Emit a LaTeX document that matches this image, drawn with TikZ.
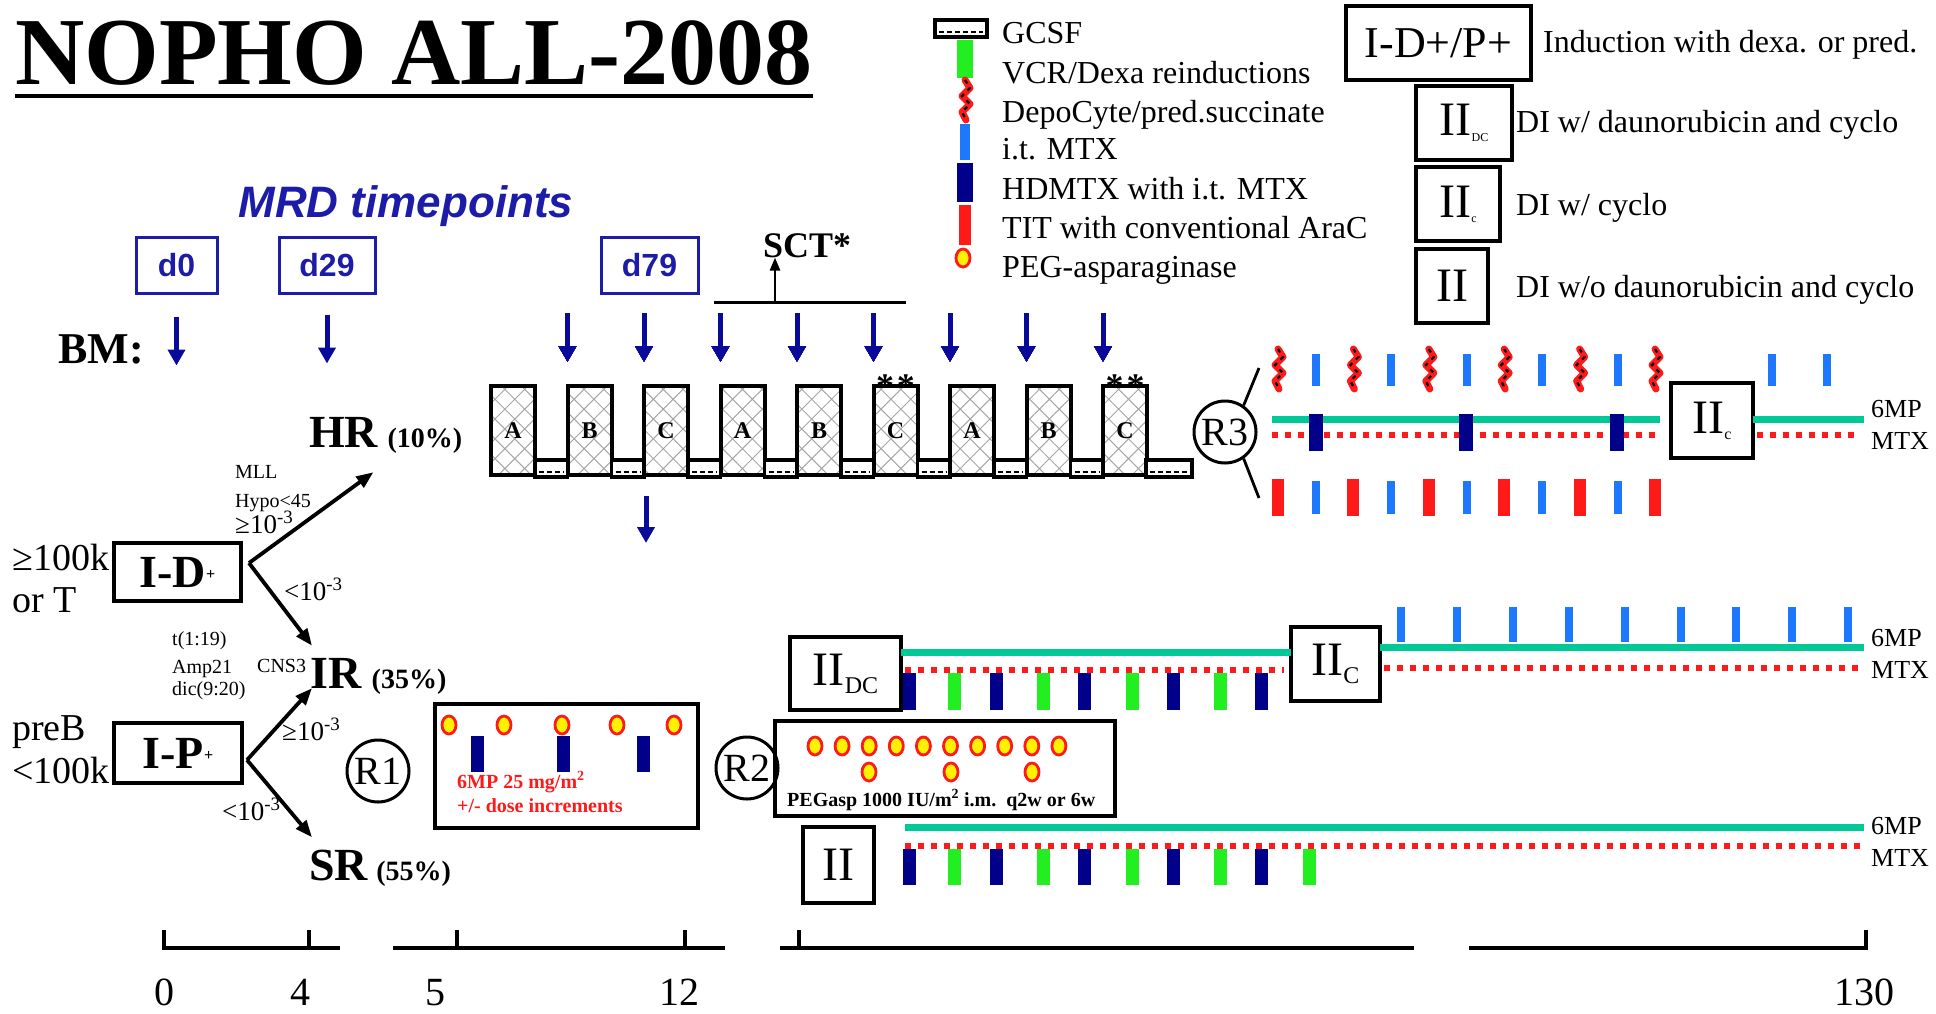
\documentclass[tikz,border=0pt]{standalone}
\usepackage{fontspec}
\setmainfont{Liberation Serif}
\setsansfont{Liberation Sans}
\usetikzlibrary{positioning, arrows.meta, patterns.meta}
\definecolor{navyBar}{HTML}{00008B}
\definecolor{arrowBlue}{HTML}{0A0A9A}
\definecolor{mrdBlue}{HTML}{1C1CA8}
\definecolor{itBlue}{HTML}{1E78FF}
\definecolor{vcrGreen}{HTML}{22EE22}
\definecolor{titRed}{HTML}{FF1A1A}
\definecolor{mpTeal}{HTML}{00C896}
\newcommand{\setfs}[1]{\fontsize{#1}{#1}\selectfont}
% GCSF box: left, bottom, width
\newcommand{\gcsf}[3]{%
  \begin{scope}[shift={(#1,#2)}]
    \draw[line width=3.5pt, fill=white] (0,0) rectangle ({#3},-17);
    \draw[line width=2.2pt, dash pattern=on 5pt off 3pt] (4,-5) -- ({#3-4},-5);
  \end{scope}}
\tikzset{
  depo/.pic={
    \draw[titRed, line width=7pt, line cap=round, line join=round] (0,0) -- (5,8) -- (-3,16) -- (5,24) -- (-3,32) -- (1,40);
    \draw[line width=2.2pt, dash pattern=on 4pt off 5pt] (0,0) -- (5,8) -- (-3,16) -- (5,24) -- (-3,32) -- (1,40);
  },
  peg/.pic={
    \draw[titRed, line width=2.8pt, fill=yellow] (0,0) ellipse [x radius=7pt, y radius=9pt];
  }
}

\begin{document}
\begin{tikzpicture}[x=1pt, y=-1pt,
  every node/.style={inner sep=0pt},
  txt/.style={anchor=base west},
  phase/.style={draw, line width=4pt, font=\setfs{48}},
  mrdbox/.style={draw=mrdBlue, line width=3pt, text=mrdBlue, font=\sffamily\bfseries\setfs{32}, minimum height=56pt},
  bm/.style={arrowBlue, line width=5pt, -{Triangle[length=16pt,width=17pt]}},
  fork/.style={line width=3.8pt, -{Triangle[length=17pt,width=13pt]}},
  block/.style={draw, line width=4pt, pattern={Hatch[angle=45,distance=14pt,line width=1pt]}, pattern color=gray!70, minimum width=44pt, minimum height=89pt, font=\bfseries\setfs{24}},
  rcirc/.style={draw, circle, line width=3pt, minimum size=62pt, font=\setfs{40}},
  sixmp/.style={mpTeal, line width=7pt},
  mtx/.style={titRed, line width=6pt, dash pattern=on 6pt off 7pt},
  axis/.style={line width=4pt},
  risk/.style={anchor=base west, font=\bfseries\setfs{46}},
  pct/.style={anchor=base west, font=\bfseries\setfs{28}},
  cond/.style={anchor=base west, font=\setfs{20}},
  cut/.style={anchor=base west, font=\setfs{27}},
  lg/.style={anchor=base west, font=\setfs{32}},
  side/.style={anchor=base west, font=\setfs{38}},
  rlab/.style={anchor=base west, font=\setfs{26}}
]
\useasboundingbox (0,0) rectangle (1936,1013);

% title
\node[txt, font=\bfseries\setfs{96}] (title) at (15,84) {NOPHO ALL-2008};
\draw[line width=4.5pt] ([yshift=-12pt]title.base west) -- ([yshift=-12pt]title.base east);

% drug legend
\gcsf{935}{37}{52}
\fill[vcrGreen] (957,40) rectangle (973,78);
\pic at (965,80) {depo};
\fill[itBlue] (960,124) rectangle (970,160);
\fill[navyBar] (957,163) rectangle (973,202);
\fill[titRed] (959,205) rectangle (971,245);
\pic at (963,258) {peg};
\node[lg] (lgcsf) at (1002,43) {GCSF};
\node[lg] (lvcr) at (1002,83) {VCR/Dexa reinductions};
\node[lg] (ldepo) at (1002,122) {DepoCyte/pred.succinate};
\node[lg] (litmtx) at (1002,159) {i.t. MTX};
\node[lg] (lhdmtx) at (1002,199) {HDMTX with i.t. MTX};
\node[lg] (ltit) at (1002,238) {TIT with conventional AraC};
\node[lg] (lpeg) at (1002,277) {PEG-asparaginase};

% phase legend
\node[phase, minimum width=185pt, minimum height=74pt, font=\setfs{44}] (legid) at (1438.5,43) {I-D+/P+};
\node[lg] (legidtxt) at (1543,52) {Induction with dexa. or pred.};
\node[phase, minimum width=96pt, minimum height=74pt] (legiidc) at (1464,123) {II\raisebox{-6pt}{\setfs{12}DC}};
\node[lg] (legiidctxt) at (1516,132) {DI w/ daunorubicin and cyclo};
\node[phase, minimum width=84pt, minimum height=74pt] (legiic) at (1458,204) {II\raisebox{-5pt}{\setfs{12}c}};
\node[lg] (legiictxt) at (1516,215) {DI w/ cyclo};
\node[phase, minimum width=72pt, minimum height=74pt] (legii) at (1452,286) {II};
\node[lg] (legiitxt) at (1516,297) {DI w/o daunorubicin and cyclo};

% MRD timepoints
\node[font=\sffamily\bfseries\itshape\setfs{44}, text=mrdBlue] (mrd) at (406,206) {MRD timepoints};
\node[mrdbox, minimum width=81pt] (d0) at (176.5,265) {d0};
\node[mrdbox, minimum width=96pt] (d29) at (327,265) {d29};
\node[mrdbox, minimum width=97pt] (d79) at (649.5,265) {d79};
\node[txt, font=\bfseries\setfs{44}] (bm) at (58,363) {BM:};
\draw[bm] ([yshift=-22pt]d0.south) -- ++(0,49);
\draw[bm] ([yshift=-20pt]d29.south) -- ++(0,49);

% HR blocks
\foreach \k/\l in {0/A,1/B,2/C,3/A,4/B,5/C,6/A,7/B,8/C}
  \node[block] (blk\k) at ({513+76.5*\k},430.5) {\l};
\foreach \k in {0,...,7}
  \gcsf{535+76.5*\k}{477}{32.5}
\gcsf{1146}{477}{46}
\foreach \k in {1,...,8}
  \draw[bm] ([xshift=2pt,yshift=71pt]blk\k.north west) -- ([xshift=2pt,yshift=22pt]blk\k.north west);
\draw[bm] ([xshift=4pt,yshift=-19pt]blk2.south west) -- ++(0,47);
\node[anchor=base, font=\bfseries\setfs{36}] (ast5) at ([yshift=-14pt]blk5.north) {*\hspace{3pt}*};
\node[anchor=base, font=\bfseries\setfs{36}] (ast8) at ([yshift=-14pt]blk8.north) {*\hspace{3pt}*};

% SCT
\node[txt, font=\bfseries\setfs{36}] (sct) at (763,257) {SCT*};
\coordinate (sctbar) at (775,302);
\draw[line width=3pt] (714,302) -- (906,302);
\draw[line width=2.5pt, -{Triangle[length=13pt,width=10pt]}] (sctbar) -- (sctbar |- sct.south);

% induction and stratification
\node[phase, minimum width=127pt, minimum height=58pt, font=\bfseries\setfs{46}] (idbox) at (177.5,572) {I-D\raisebox{8pt}{\setfs{16}+}};
\node[phase, minimum width=128pt, minimum height=60pt, font=\bfseries\setfs{46}] (ipbox) at (178,753) {I-P\raisebox{8pt}{\setfs{16}+}};
\node[side] (wbchi) at (12,570) {≥100k};
\node[side] (tcell) at (12,612) {or T};
\node[side] (preb) at (12,740) {preB};
\node[side] (wbclo) at (12,783) {<100k};

\node[risk] (hr) at (309,447) {HR};
\node[pct] (hrpct) at ([xshift=9pt]hr.base east) {(10\%)};
\node[risk] (ir) at (310,688) {IR};
\node[pct] (irpct) at ([xshift=10pt]ir.base east) {(35\%)};
\node[risk] (sr) at (309,880) {SR};
\node[pct] (srpct) at ([xshift=8pt]sr.base east) {(55\%)};

\coordinate (idfork) at ([xshift=6pt,yshift=9pt]idbox.east);
\coordinate (ipfork) at ([xshift=3pt,yshift=-7pt]ipbox.east);
\draw[fork] (idfork) -- ([xshift=-5pt,yshift=-25pt]hr.south east);
\draw[fork] (idfork) -- ([xshift=2pt,yshift=12pt]ir.north west);
\draw[fork] (ipfork) -- ([xshift=2pt]ir.south west);
\draw[fork] (ipfork) -- ([xshift=3pt,yshift=12pt]sr.north west);

\node[cond] (mll) at (235,478) {MLL};
\node[cond] (hypo) at (235,507) {Hypo<45};
\node[cut] (hrcut) at (235,533) {≥10\textsuperscript{-3}};
\node[cut] (ircut) at (284,600) {<10\textsuperscript{-3}};
\node[cond] (t119) at (172,645) {t(1:19)};
\node[cond] (amp) at (172,673) {Amp21};
\node[cond] (dic) at (172,695) {dic(9:20)};
\node[cond] (cns) at (257,672) {CNS3};
\node[cut] (ipircut) at (282,740) {≥10\textsuperscript{-3}};
\node[cut] (srcut) at (222,820) {<10\textsuperscript{-3}};

% R1
\node[rcirc] (r1) at (378,771) {R1};
\node[phase, minimum width=263pt, minimum height=124pt] (mpbox) at (566.5,766) {};
\foreach \x in {477,563,643}
  \fill[navyBar] ({\x-6.5},736) rectangle ++(13,36);
\foreach \x in {449,504,562,617,674}
  \pic at (\x,725) {peg};
\node[txt, font=\bfseries\setfs{20}, text=titRed] (mpdose) at (457,788) {6MP 25 mg/m\textsuperscript{2}};
\node[txt, font=\bfseries\setfs{20}, text=titRed] (mpincr) at (457,812) {+/- dose increments};

% R2
\node[rcirc] (r2) at (747,768) {R2};
\node[phase, minimum width=340pt, minimum height=95pt] (pegbox) at (945,768.5) {};
\foreach \k in {0,...,9}
  \pic at ({815+27.1*\k},746) {peg};
\foreach \x in {869,951,1032}
  \pic at (\x,772) {peg};
\node[txt, font=\bfseries\setfs{20}] (pegtxt) at (787,806) {PEGasp 1000 IU/m\textsuperscript{2} i.m.\ \ q2w or 6w};

% IR maintenance
\node[phase, minimum width=111pt, minimum height=73pt] (iidc) at (845.5,673.5) {II\raisebox{-8pt}{\setfs{24}DC}};
\node[phase, minimum width=89pt, minimum height=74pt] (iicir) at (1335.5,664) {II\raisebox{-8pt}{\setfs{24}C}};
\draw[sixmp] (901,652) -- (1291,652);
\draw[mtx] (905,670) -- (1284,670);
\foreach \x in {909,996,1084,1173,1261}
  \fill[navyBar] ({\x-6.5},673) rectangle ++(13,37);
\foreach \x in {954,1043,1132,1220}
  \fill[vcrGreen] ({\x-6.5},673) rectangle ++(13,37);
\draw[sixmp] (1380,647) -- (1864,647);
\draw[mtx] (1384,668) -- (1860,668);
\foreach \k in {0,...,8}
  \fill[itBlue] ({1397+55.9*\k},607) rectangle ++(8,35);
\node[rlab] (irmp) at (1871,646) {6MP};
\node[rlab] (irmtx) at (1871,678) {MTX};

% SR maintenance
\node[phase, minimum width=71pt, minimum height=76pt] (iisr) at (838.5,865) {II};
\draw[sixmp] (905,827) -- (1864,827);
\draw[mtx] (905,846) -- (1860,846);
\foreach \x in {909,996,1084,1173,1261}
  \fill[navyBar] ({\x-6.5},849) rectangle ++(13,36);
\foreach \x in {954,1043,1132,1220,1309}
  \fill[vcrGreen] ({\x-6.5},849) rectangle ++(13,36);
\node[rlab] (srmp) at (1871,834) {6MP};
\node[rlab] (srmtx) at (1871,866) {MTX};

% R3 and HR maintenance
\node[rcirc] (r3) at (1225,432) {R3};
\coordinate (r3up) at (1259,368);
\coordinate (r3dn) at (1259,498);
\draw[line width=2.8pt] (r3.55) -- (r3up);
\draw[line width=2.8pt] (r3.-55) -- (r3dn);
\foreach \k in {0,...,5} {
  \pic at ({1278+75.4*\k},349) {depo};
  \fill[titRed] ({1272+75.4*\k},479) rectangle ++(12,37);
}
\foreach \k in {0,...,4} {
  \fill[itBlue] ({1312+75.4*\k},354) rectangle ++(8,32);
  \fill[itBlue] ({1312+75.4*\k},481) rectangle ++(8,33);
}
\draw[sixmp] (1272,419) -- (1660,419);
\draw[mtx] (1272,435) -- (1655,435);
\foreach \x in {1316,1466,1617}
  \fill[navyBar] ({\x-7},414) rectangle ++(14,37);
\node[phase, minimum width=82pt, minimum height=75pt] (iicr3) at (1712,420.5) {II\raisebox{-6pt}{\setfs{16}c}};
\draw[sixmp] (1753,419) -- (1864,419);
\draw[mtx] (1757,435) -- (1860,435);
\foreach \x in {1772,1827}
  \fill[itBlue] ({\x-4},354) rectangle ++(8,32);
\node[rlab] (r3mp) at (1871,417) {6MP};
\node[rlab] (r3mtx) at (1871,449) {MTX};

% time axis (weeks)
\draw[axis] (164,930) -- (164,948) -- (340,948);
\draw[axis] (309,930) -- (309,948);
\draw[axis] (393,948) -- (725,948);
\draw[axis] (457,930) -- (457,948);
\draw[axis] (685,930) -- (685,948);
\draw[axis] (780,948) -- (1414,948);
\draw[axis] (799,930) -- (799,948);
\draw[axis] (1469,948) -- (1866,948) -- (1866,930);
\node[anchor=base, font=\setfs{40}] (w0) at (164,1005) {0};
\node[anchor=base, font=\setfs{40}] (w4) at (300,1005) {4};
\node[anchor=base, font=\setfs{40}] (w5) at (435,1005) {5};
\node[anchor=base, font=\setfs{40}] (w12) at (679,1005) {12};
\node[anchor=base, font=\setfs{40}] (w130) at (1864,1005) {130};
\end{tikzpicture}
\end{document}
